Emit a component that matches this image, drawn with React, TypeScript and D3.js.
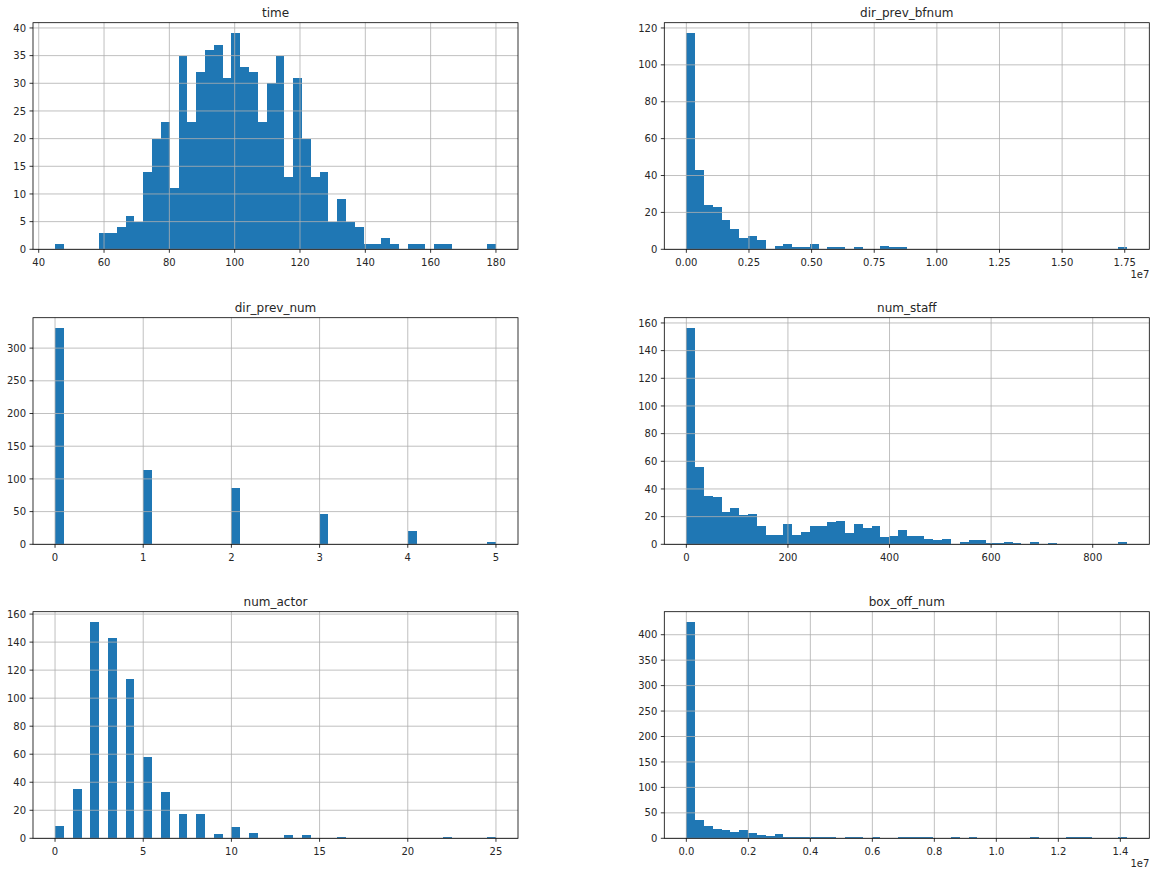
import React from "react";
import * as d3 from "d3";

// ---------- data (50-bin histograms) ----------
const timeRange = [45, 180];
const timeCounts = [1,0,0,0,0,3,3,4,6,5,14,20,23,11,35,23,32,36,37,31,39,33,32,23,30,35,13,31,20,13,14,5,9,5,4,1,1,2,1,0,1,1,0,1,1,0,0,0,0,1];
const timeXTicks = [40, 60, 80, 100, 120, 140, 160, 180];
const timeYTicks = [0, 5, 10, 15, 20, 25, 30, 35, 40];

const bfnumRange = [0, 1.76e7];
const bfnumCounts = [117,43,24,23,16,11,6,7,5,0,2,3,1,1,3,0,1,1,0,1,0,0,2,1,1,0,0,0,0,0,0,0,0,0,0,0,0,0,0,0,0,0,0,0,0,0,0,0,0,1];
const bfnumXTicks = [0, 0.25e7, 0.5e7, 0.75e7, 1.0e7, 1.25e7, 1.5e7, 1.75e7];
const bfnumYTicks = [0, 20, 40, 60, 80, 100, 120];

const prevNumRange = [0, 5];
const prevNumCounts = [330,0,0,0,0,0,0,0,0,0,114,0,0,0,0,0,0,0,0,0,86,0,0,0,0,0,0,0,0,0,47,0,0,0,0,0,0,0,0,0,20,0,0,0,0,0,0,0,0,3];
const prevNumXTicks = [0, 1, 2, 3, 4, 5];
const prevNumYTicks = [0, 50, 100, 150, 200, 250, 300];

const staffRange = [0, 868];
const staffCounts = [156,56,35,34,23,26,21,22,13,7,7,15,7,9,13,13,16,17,8,15,12,13,5,6,10,6,6,4,3,4,0,2,3,3,1,1,2,1,0,2,0,1,0,0,0,0,0,0,0,2];
const staffXTicks = [0, 200, 400, 600, 800];
const staffYTicks = [0, 20, 40, 60, 80, 100, 120, 140, 160];

const actorRange = [0, 25];
const actorCounts = [9,0,35,0,154,0,143,0,114,0,58,0,33,0,17,0,17,0,3,0,8,0,4,0,0,0,2,0,2,0,0,0,1,0,0,0,0,0,0,0,0,0,0,0,1,0,0,0,0,1];
const actorXTicks = [0, 5, 10, 15, 20, 25];
const actorYTicks = [0, 20, 40, 60, 80, 100, 120, 140, 160];

const boxRange = [0, 1.4223e7];
const boxCounts = [424,36,24,18,16,12,16,10,6,4,8,1,3,1,1,1,3,0,1,3,0,1,0,0,1,1,1,1,0,0,1,0,1,0,0,0,0,0,0,1,0,0,0,1,1,1,0,0,0,1];
const boxXTicks = [0, 0.2e7, 0.4e7, 0.6e7, 0.8e7, 1.0e7, 1.2e7, 1.4e7];
const boxYTicks = [0, 50, 100, 150, 200, 250, 300, 350, 400];

const titles = ["time", "dir_prev_bfnum", "dir_prev_num", "num_staff", "num_actor", "box_off_num"];

// ---------- layout ----------
const W = 1156;
const H = 875;
const COL_X = [33, 664.3];
const ROW_Y = [22.7, 317.7, 611.7];
const AX_W = 485;
const AX_H = 226.6;
const BAR = "#1f77b4";
const GRID = "#b0b0b0";
const FONT = "DejaVu Sans, sans-serif";

type Panel = {
  title: string;
  range: number[];
  counts: number[];
  xTicks: number[];
  yTicks: number[];
  fmt: (v: number) => string;
  offset: string;
};

const panels: Panel[] = [
  { title: titles[0], range: timeRange, counts: timeCounts, xTicks: timeXTicks, yTicks: timeYTicks, fmt: (v) => String(v), offset: "" },
  { title: titles[1], range: bfnumRange, counts: bfnumCounts, xTicks: bfnumXTicks, yTicks: bfnumYTicks, fmt: (v) => (v / 1e7).toFixed(2), offset: "1e7" },
  { title: titles[2], range: prevNumRange, counts: prevNumCounts, xTicks: prevNumXTicks, yTicks: prevNumYTicks, fmt: (v) => String(v), offset: "" },
  { title: titles[3], range: staffRange, counts: staffCounts, xTicks: staffXTicks, yTicks: staffYTicks, fmt: (v) => String(v), offset: "" },
  { title: titles[4], range: actorRange, counts: actorCounts, xTicks: actorXTicks, yTicks: actorYTicks, fmt: (v) => String(v), offset: "" },
  { title: titles[5], range: boxRange, counts: boxCounts, xTicks: boxXTicks, yTicks: boxYTicks, fmt: (v) => (v / 1e7).toFixed(1), offset: "1e7" },
];

function Hist({ p, left, top }: { p: Panel; left: number; top: number }) {
  const [lo, hi] = p.range;
  const R = hi - lo;
  const n = p.counts.length;
  const bw = R / n;
  const x = d3.scaleLinear().domain([lo - 0.05 * R, hi + 0.05 * R]).range([left, left + AX_W]);
  const maxC = d3.max(p.counts) as number;
  const bottom = top + AX_H;
  const y = d3.scaleLinear().domain([0, maxC * 1.05]).range([bottom, top]);
  const right = left + AX_W;
  return (
    <g>
      <g shapeRendering="crispEdges">
        {p.counts.map((c, i) => {
          if (c <= 0) return null;
          const x0 = Math.round(x(lo + i * bw));
          const x1 = Math.round(x(lo + (i + 1) * bw));
          const yb = Math.round(y(0));
          const yt = Math.min(Math.round(y(c)), yb - 1);
          return <rect key={i} x={x0} y={yt} width={x1 - x0} height={yb - yt} fill={BAR} />;
        })}
      </g>
      {p.xTicks.map((t) => (
        <line key={"gx" + t} x1={x(t)} x2={x(t)} y1={top} y2={bottom} stroke={GRID} strokeWidth={0.8} />
      ))}
      {p.yTicks.map((t) => (
        <line key={"gy" + t} x1={left} x2={right} y1={y(t)} y2={y(t)} stroke={GRID} strokeWidth={0.8} />
      ))}
      <rect x={left} y={top} width={AX_W} height={AX_H} fill="none" stroke="#000" strokeWidth={0.8} />
      {p.xTicks.map((t) => (
        <g key={"tx" + t}>
          <line x1={x(t)} x2={x(t)} y1={bottom} y2={bottom + 3.5} stroke="#000" strokeWidth={0.8} />
          <text x={x(t)} y={bottom + 16.3} textAnchor="middle" fontSize={10} fontFamily={FONT} fill="#262626">
            {p.fmt(t)}
          </text>
        </g>
      ))}
      {p.yTicks.map((t) => (
        <g key={"ty" + t}>
          <line x1={left - 3.5} x2={left} y1={y(t)} y2={y(t)} stroke="#000" strokeWidth={0.8} />
          <text x={left - 7} y={y(t)} dy="0.36em" textAnchor="end" fontSize={10} fontFamily={FONT} fill="#262626">
            {String(t)}
          </text>
        </g>
      ))}
      <text x={(left + right) / 2} y={top - 6} textAnchor="middle" fontSize={12} fontFamily={FONT} fill="#262626">
        {p.title}
      </text>
      {p.offset ? (
        <text x={right} y={bottom + 29} textAnchor="end" fontSize={10} fontFamily={FONT} fill="#262626">
          {p.offset}
        </text>
      ) : null}
    </g>
  );
}

export default function App() {
  return (
    <svg
      width={W}
      height={H}
      viewBox={`0 0 ${W} ${H}`}
      style={{ position: "absolute", left: 0, top: 0, background: "#fff" }}
    >
      <rect x={0} y={0} width={W} height={H} fill="#fff" />
      {panels.map((p, i) => (
        <Hist key={p.title} p={p} left={COL_X[i % 2]} top={ROW_Y[Math.floor(i / 2)]} />
      ))}
    </svg>
  );
}
